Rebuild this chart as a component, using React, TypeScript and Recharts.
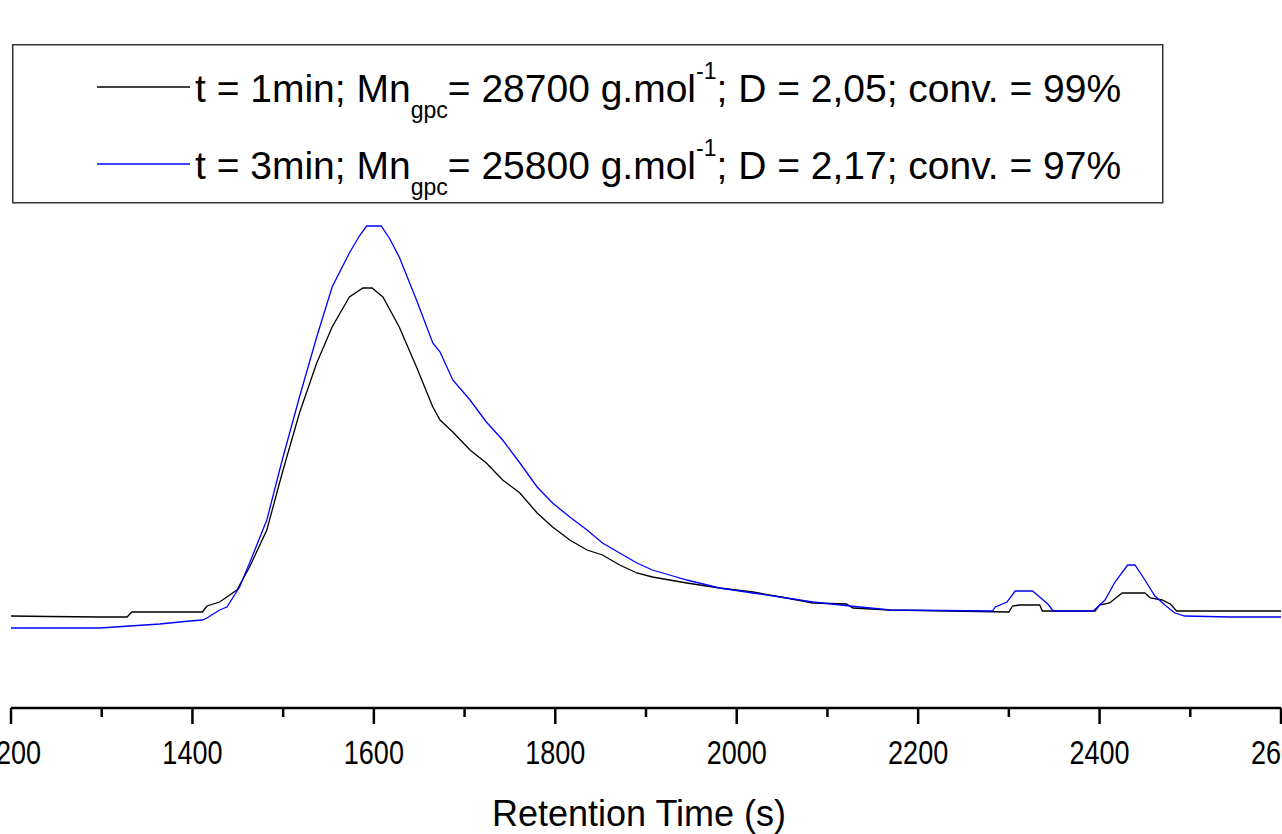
import { LineChart, Line, XAxis, YAxis, Legend, Label } from 'recharts';

// retention time (s) / detector signal (a.u.)
const t1Time = [1200, 1242, 1298, 1328, 1333, 1375, 1411, 1416, 1430, 1449, 1463, 1482, 1499, 1518, 1537, 1554, 1573, 1588, 1598, 1610, 1628, 1647, 1665, 1673, 1687, 1706, 1724, 1742, 1761, 1780, 1797, 1816, 1835, 1852, 1871, 1890, 1907, 1945, 1981, 2018, 2055, 2084, 2121, 2128, 2169, 2235, 2300, 2304, 2312, 2334, 2337, 2367, 2395, 2400, 2411, 2425, 2450, 2456, 2469, 2478, 2485, 2544, 2600];
const t1Signal = [0.92, 0.915, 0.91, 0.91, 0.96, 0.96, 0.96, 1.02, 1.06, 1.18, 1.41, 1.78, 2.35, 2.95, 3.45, 3.81, 4.11, 4.2, 4.2, 4.11, 3.81, 3.41, 3.01, 2.88, 2.76, 2.58, 2.45, 2.28, 2.15, 1.95, 1.81, 1.68, 1.58, 1.53, 1.43, 1.35, 1.31, 1.25, 1.2, 1.16, 1.1, 1.05, 1.04, 1.0, 0.98, 0.97, 0.96, 1.02, 1.03, 1.03, 0.97, 0.97, 0.97, 1.03, 1.05, 1.15, 1.15, 1.1, 1.08, 1.04, 0.97, 0.97, 0.97];

const t3Time = [1200, 1253, 1298, 1331, 1364, 1397, 1411, 1416, 1430, 1438, 1452, 1463, 1482, 1499, 1518, 1537, 1554, 1573, 1584, 1592, 1608, 1617, 1628, 1647, 1665, 1673, 1687, 1706, 1724, 1742, 1761, 1780, 1797, 1816, 1835, 1852, 1871, 1890, 1907, 1926, 1945, 1981, 2018, 2055, 2084, 2125, 2169, 2282, 2285, 2298, 2307, 2326, 2334, 2343, 2349, 2393, 2406, 2417, 2431, 2439, 2450, 2461, 2472, 2483, 2494, 2544, 2600];
const t3Signal = [0.8, 0.8, 0.8, 0.82, 0.84, 0.87, 0.88, 0.9, 0.98, 1.01, 1.21, 1.45, 1.88, 2.48, 3.11, 3.71, 4.21, 4.55, 4.72, 4.82, 4.82, 4.7, 4.51, 4.08, 3.65, 3.56, 3.28, 3.08, 2.86, 2.68, 2.45, 2.21, 2.05, 1.91, 1.78, 1.65, 1.55, 1.45, 1.38, 1.33, 1.28, 1.2, 1.15, 1.1, 1.06, 1.02, 0.98, 0.97, 1.01, 1.06, 1.17, 1.17, 1.11, 1.04, 0.97, 0.97, 1.08, 1.26, 1.43, 1.43, 1.28, 1.12, 1.03, 0.95, 0.92, 0.91, 0.91];

const xTicks = [1200, 1300, 1400, 1500, 1600, 1700, 1800, 1900, 2000, 2100, 2200, 2300, 2400, 2500, 2600];
const majorTicks = [1200, 1400, 1600, 1800, 2000, 2200, 2400, 2600];

const runTimes = ['1min', '3min'];
const mnGpc = ['28700', '25800'];
const dispersity = ['2,05', '2,17'];
const conversion = ['99%', '97%'];

const FONT = '"Liberation Sans", Arial, sans-serif';

const toRows = (time: number[], signal: number[]) =>
  time.map((t, i) => ({ time: t, signal: signal[i] }));

const run1 = toRows(t1Time, t1Signal);
const run3 = toRows(t3Time, t3Signal);

function AxisTick({ x, y, payload }: any) {
  const major = majorTicks.includes(payload.value);
  return (
    <g>
      <line x1={x} y1={y} x2={x} y2={y + (major ? 16 : 9)} stroke="#000" strokeWidth={2.5} />
      {major && (
        <text
          transform={`translate(${x},${y + 56}) scale(0.82,1)`}
          textAnchor="middle"
          fontSize={33}
          fontFamily={FONT}
          fill="#000"
        >
          {payload.value}
        </text>
      )}
    </g>
  );
}

function LegendBox({ payload }: any) {
  const items = payload ?? [];
  return (
    <svg width={1152} height={160} style={{ display: 'block' }}>
      <rect x={0.75} y={0.75} width={1150} height={158} fill="#fff" stroke="#333" strokeWidth={1.5} />
      {items.map((item: any, i: number) => {
        const base = 58 + i * 77;
        return (
          <g key={i}>
            <line x1={85} x2={178} y1={base - 15} y2={base - 15} stroke={item.color} strokeWidth={1.3} />
            <text x={183} y={base} fontSize={39} fontFamily={FONT} fill="#000" style={{ whiteSpace: 'pre' }}>
              <tspan>{`t = ${runTimes[i]}; Mn`}</tspan>
              <tspan fontSize={23} dy={16}>gpc</tspan>
              <tspan dy={-16}>{`= ${mnGpc[i]} g.mol`}</tspan>
              <tspan fontSize={23} dy={-23}>-1</tspan>
              <tspan dy={23}>{`; D = ${dispersity[i]}; conv. = ${conversion[i]}`}</tspan>
            </text>
          </g>
        );
      })}
    </svg>
  );
}

export default function App() {
  return (
    <div>
      <style>{'body{margin:0}'}</style>
      <LineChart width={1282} height={834} margin={{ top: 208, right: 1, left: 11, bottom: 0 }}>
        <XAxis
          dataKey="time"
          type="number"
          domain={[1200, 2600]}
          ticks={xTicks}
          interval={0}
          allowDataOverflow
          height={126}
          tickLine={false}
          tickSize={0}
          tickMargin={0}
          tick={<AxisTick />}
          axisLine={{ stroke: '#000', strokeWidth: 2.5 }}
        >
          <Label
            content={({ viewBox }: any) => (
              <text
                x={viewBox.x + viewBox.width / 2 - 7}
                y={viewBox.y + 118}
                textAnchor="middle"
                fontSize={36}
                fontFamily={FONT}
                fill="#000"
              >
                Retention Time (s)
              </text>
            )}
          />
        </XAxis>
        <YAxis hide domain={[0, 5]} />
        <Legend
          layout="vertical"
          align="center"
          verticalAlign="middle"
          wrapperStyle={{ position: 'absolute', left: 12, top: 44, width: 1152, height: 160 }}
          content={<LegendBox />}
        />
        <Line
          data={run1}
          dataKey="signal"
          name="t = 1min"
          type="linear"
          stroke="#000000"
          strokeWidth={1.3}
          dot={false}
          isAnimationActive={false}
        />
        <Line
          data={run3}
          dataKey="signal"
          name="t = 3min"
          type="linear"
          stroke="#0000ff"
          strokeWidth={1.3}
          dot={false}
          isAnimationActive={false}
        />
      </LineChart>
    </div>
  );
}
